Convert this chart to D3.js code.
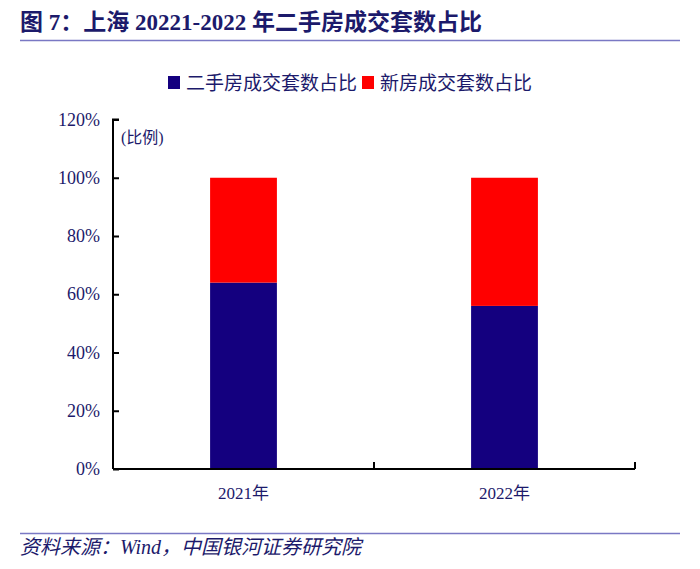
<!DOCTYPE html>
<html>
<head>
<meta charset="utf-8">
<script src="https://cdn.jsdelivr.net/npm/d3@7"></script>
<style>
  body { margin: 0; background: #fff; }
  svg { display: block; }
</style>
</head>
<body>
<div id="chart"></div>
<script>
// data
var years = ["2021年", "2022年"];
var secondHand = [0.64, 0.56];   // 二手房成交套数占比
var newHouse = [0.36, 0.44];     // 新房成交套数占比
var seriesNames = ["二手房成交套数占比", "新房成交套数占比"];
var yTicks = [0, 0.2, 0.4, 0.6, 0.8, 1.0, 1.2];

var width = 700,
    height = 569;

var navy = "#1c1a6b",
    blue = "#14007f",
    red = "#ff0000",
    serif = "'Liberation Serif', 'Times New Roman', 'Noto Sans CJK SC', serif";

var svg = d3.select("#chart")
  .append("svg")
  .attr("width", width)
  .attr("height", height);

// header
svg.append("text")
  .attr("x", 20)
  .attr("y", 30)
  .style("font-family", serif)
  .style("font-weight", "bold")
  .style("font-size", "23px")
  .style("fill", navy)
  .text("图 7：上海 20221-2022 年二手房成交套数占比");

svg.append("line")
  .attr("x1", 20).attr("x2", 680)
  .attr("y1", 40.5).attr("y2", 40.5)
  .style("stroke", "#7a78c4")
  .style("stroke-width", 1.5);

// footer
svg.append("line")
  .attr("x1", 20).attr("x2", 680)
  .attr("y1", 533.5).attr("y2", 533.5)
  .style("stroke", "#7a78c4")
  .style("stroke-width", 1.5);

svg.append("text")
  .attr("x", 20)
  .attr("y", 554)
  .style("font-family", serif)
  .style("font-style", "italic")
  .style("font-size", "20px")
  .style("fill", navy)
  .text("资料来源：Wind，中国银河证券研究院");

// scales
var x = d3.scaleBand()
  .domain(years)
  .range([113, 635])
  .paddingInner(0.744)
  .paddingOuter(0.372);

var y = d3.scaleLinear()
  .domain([0, 1.2])
  .range([469, 119.5]);

var stackData = years.map(function(yr, i) {
  return { year: yr, s0: secondHand[i], s1: newHouse[i] };
});

var stack = d3.stack().keys(["s0", "s1"]);
var layers = stack(stackData);
var colors = [blue, red];

var plot = svg.append("g");

plot.selectAll("g.layer")
  .data(layers)
  .enter()
  .append("g")
  .attr("class", "layer")
  .style("fill", function(d, i) { return colors[i]; })
  .selectAll("rect")
  .data(function(d) { return d; })
  .enter()
  .append("rect")
  .attr("x", function(d) { return x(d.data.year); })
  .attr("width", x.bandwidth())
  .attr("y", function(d) { return y(d[1]); })
  .attr("height", function(d) { return y(d[0]) - y(d[1]); });

// y axis
var yAxis = d3.axisRight(y)
  .tickValues(yTicks)
  .tickSize(6)
  .tickFormat("");

var yg = svg.append("g")
  .attr("transform", "translate(113,0)")
  .call(yAxis);
yg.select(".domain").attr("d", "M6,119.5H0V469");
yg.selectAll("path, line").style("stroke", "#000").style("stroke-width", 2);

svg.append("g")
  .selectAll("text")
  .data(yTicks)
  .enter()
  .append("text")
  .attr("x", 100)
  .attr("y", function(d) { return y(d) + 6; })
  .attr("text-anchor", "end")
  .style("font-family", serif)
  .style("font-size", "18px")
  .style("fill", navy)
  .text(function(d) { return d3.format(".0%")(d); });

svg.append("text")
  .attr("x", 121)
  .attr("y", 143)
  .style("font-family", serif)
  .style("font-size", "16px")
  .style("fill", navy)
  .text("(比例)");

// x axis: ticks at band boundaries pointing up
var bounds = [113, 374, 635];
var xg = svg.append("g");
xg.append("line")
  .attr("x1", 113).attr("x2", 635)
  .attr("y1", 469).attr("y2", 469)
  .style("stroke", "#000").style("stroke-width", 2);
xg.selectAll("line.tick")
  .data(bounds.slice(1))
  .enter()
  .append("line")
  .attr("class", "tick")
  .attr("x1", function(d) { return d; })
  .attr("x2", function(d) { return d; })
  .attr("y1", 469).attr("y2", 462)
  .style("stroke", "#000").style("stroke-width", 2);

xg.selectAll("text")
  .data(years)
  .enter()
  .append("text")
  .attr("x", function(d) { return x(d) + x.bandwidth() / 2; })
  .attr("y", 499)
  .attr("text-anchor", "middle")
  .style("font-family", serif)
  .style("font-size", "17px")
  .style("fill", navy)
  .text(function(d) { return d; });

// legend
var legend = svg.append("g").attr("class", "legend");
var legX = [168, 362];
seriesNames.forEach(function(name, i) {
  legend.append("rect")
    .attr("x", legX[i])
    .attr("y", 76)
    .attr("width", 12)
    .attr("height", 13)
    .style("fill", colors[i]);
  legend.append("text")
    .attr("x", legX[i] + 18)
    .attr("y", 90)
    .style("font-family", serif)
    .style("font-size", "19px")
    .style("fill", navy)
    .text(name);
});
</script>
</body>
</html>
